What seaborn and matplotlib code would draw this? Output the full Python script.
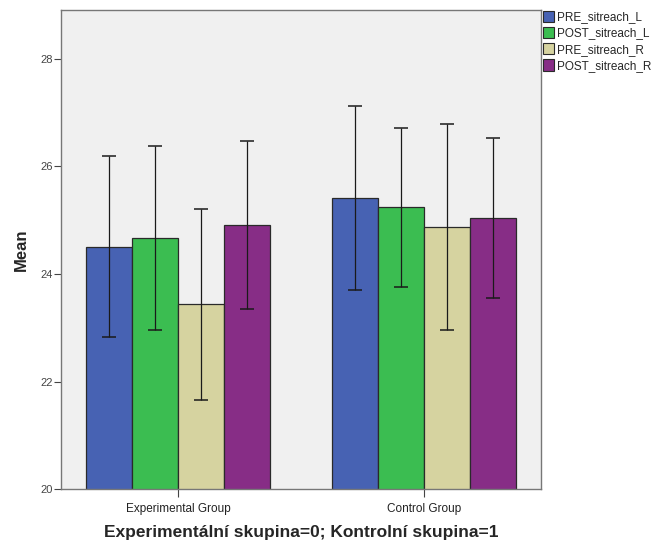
import matplotlib
matplotlib.use('Agg')
import matplotlib.pyplot as plt
import pandas as pd
import seaborn as sns

groups = ['Experimental Group', 'Control Group']
variables = ['PRE_sitreach_L', 'POST_sitreach_L', 'PRE_sitreach_R', 'POST_sitreach_R']
colors = ['#4762b3', '#3bbd51', '#d6d3a0', '#872d86']

# means per group, in the order of variables
exp_means = [24.51, 24.67, 23.44, 24.91]
ctl_means = [25.41, 25.24, 24.87, 25.04]
# error bar ends (lower, upper)
exp_low = [22.83, 22.96, 21.65, 23.35]
exp_high = [26.19, 26.37, 25.21, 26.47]
ctl_low = [23.71, 23.76, 22.96, 23.56]
ctl_high = [27.12, 26.72, 26.78, 26.53]

rows = []
for g, means, lows, highs in [(groups[0], exp_means, exp_low, exp_high),
                              (groups[1], ctl_means, ctl_low, ctl_high)]:
    for v, m, lo, hi in zip(variables, means, lows, highs):
        rows.append({'group': g, 'variable': v, 'mean': m, 'low': lo, 'high': hi})
df = pd.DataFrame(rows)

sns.set_style('white')
plt.rcParams['font.family'] = ['Liberation Sans', 'DejaVu Sans']

fig = plt.figure(figsize=(6.58, 5.4), dpi=100)
ax = fig.add_axes([0.093, 0.094, 0.729, 0.887])
ax.set_facecolor('#f0f0f0')

sns.barplot(data=df, x='group', y='mean', hue='variable', order=groups,
            hue_order=variables, palette=colors, width=0.75, errorbar=None,
            saturation=1, edgecolor='#2a2a2a', linewidth=0.9, ax=ax)

# error bars at bar centres
for i, v in enumerate(variables):
    cont = ax.containers[i]
    for j, bar in enumerate(cont):
        row = df[(df['variable'] == v) & (df['group'] == groups[j])].iloc[0]
        xc = bar.get_x() + bar.get_width() / 2
        ax.errorbar(xc, row['mean'],
                    yerr=[[row['mean'] - row['low']], [row['high'] - row['mean']]],
                    fmt='none', ecolor='#1a1a1a', elinewidth=0.9, capsize=5,
                    capthick=1.1, zorder=5)

ax.set_ylim(20, 28.9)
ax.set_xlim(-0.476, 1.476)
ax.set_yticks([20, 22, 24, 26, 28])
ax.tick_params(axis='y', direction='out', length=5, width=0.8, color='#444444',
               labelsize=8, labelcolor='#444444', pad=1, left=True)
ax.tick_params(axis='x', direction='out', length=6, width=0.8, color='#444444',
               labelsize=8.5, labelcolor='#222222', pad=4, bottom=True)
for s in ax.spines.values():
    s.set_color('#777777')
    s.set_linewidth(1.0)

ax.set_ylabel('Mean', fontsize=12, fontweight='bold', labelpad=8)
ax.set_xlabel('Experimentální skupina=0; Kontrolní skupina=1', fontsize=12.5,
              fontweight='bold', labelpad=7)

leg = ax.legend(loc='upper left', bbox_to_anchor=(1.0, 1.003), frameon=False,
                fontsize=8.5, handlelength=1.0, handleheight=1.1, handletextpad=0.2,
                labelspacing=0.3, borderaxespad=0.05, borderpad=0.1)
for h in leg.legend_handles:
    h.set_edgecolor('#2a2a2a')
    h.set_linewidth(0.8)

fig.savefig('out.png', dpi=100)
